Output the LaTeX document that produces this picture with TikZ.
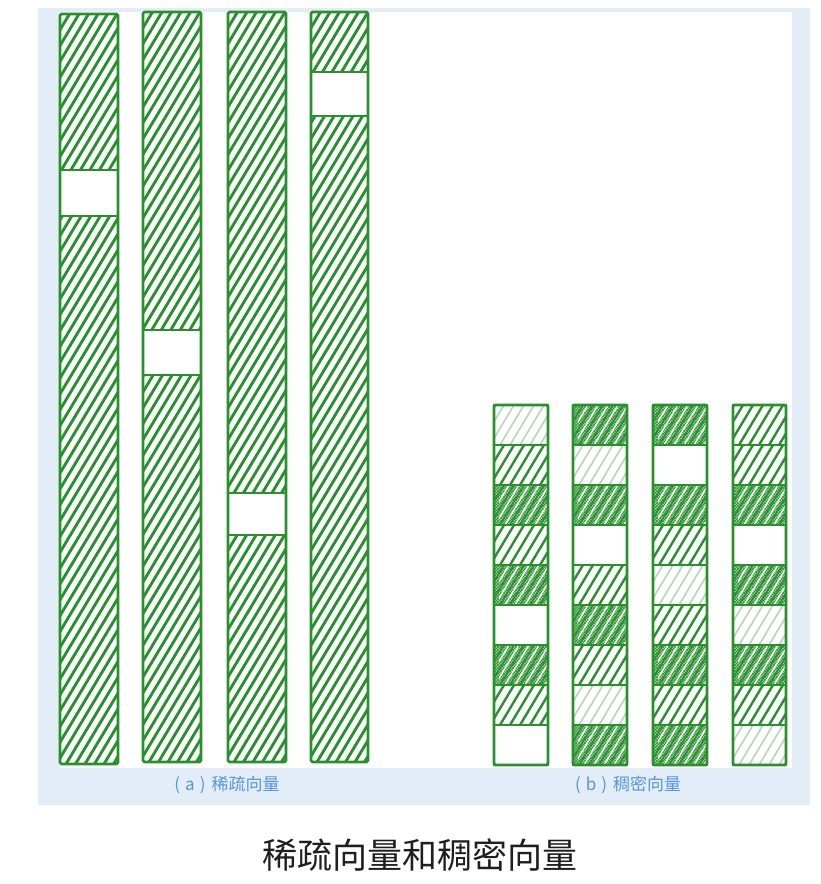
\documentclass[tikz,border=0pt]{standalone}
\usepackage{fontspec}
\newfontfamily\cjk{Noto Sans CJK SC}
\usetikzlibrary{patterns}
\definecolor{hgreen}{RGB}{40,145,45}
\definecolor{panelblue}{RGB}{227,237,248}
\definecolor{capblue}{RGB}{86,150,220}
\definecolor{titlegray}{RGB}{30,30,35}

\tikzset{
  hatchline/.style={hgreen, line width=2.9pt},
  bhatchline/.style={hgreen, line width=2.4pt},
  lighthatch/.style={hgreen!35, line width=1.6pt},
  whiteline/.style={white, line width=1.4pt},
  darkline/.style={hgreen, line width=1.6pt},
  outline/.style={draw=hgreen, line width=2.6pt, rounded corners=1.5pt},
  capstyle/.style={font=\cjk\fontsize{17}{17}\selectfont, text=capblue},
  titlestyle/.style={font=\cjk\fontsize{35}{35}\selectfont, text=titlegray}
}

% x1 y1 x2 y2 spacing style
\newcommand{\hatchbox}[6]{%
  \begin{scope}
    \clip (#1,#2) rectangle (#3,#4);
    \pgfmathsetmacro{\hh}{(#4-#2)*0.6}
    \pgfmathsetmacro{\hv}{(#4-#2)}
    \pgfmathsetmacro{\tstart}{#1-\hh}
    \pgfmathsetmacro{\tnext}{\tstart+#5}
    \foreach \t in {\tstart,\tnext,...,#3} \draw[#6] (\t,#4) -- ++(\hh,-\hv);
  \end{scope}}

\newcommand{\cellW}[4]{}
\newcommand{\cellL}[4]{\hatchbox{#1}{#2}{#3}{#4}{10}{lighthatch}}
\newcommand{\cellH}[4]{\hatchbox{#1}{#2}{#3}{#4}{10}{bhatchline}}
\newcommand{\cellD}[4]{%
  \fill[hgreen!40] (#1,#2) rectangle (#3,#4);
  \fill[pattern=crosshatch, pattern color=hgreen] (#1,#2) rectangle (#3,#4);
  \hatchbox{#1}{#2}{#3}{#4}{10}{darkline}
  \pgfmathsetmacro{\xs}{#1+5}
  \hatchbox{\xs}{#2}{#3}{#4}{10}{whiteline}}

% sparse bar: x1 y1 x2 y2 gaptop gapbottom
\newcommand{\sparsebar}[6]{%
  \hatchbox{#1}{#2}{#3}{#4}{9.5}{hatchline}
  \fill[white] (#1,#5) rectangle (#3,#6);
  \draw[hgreen, line width=2.4pt] (#1,#5) -- (#3,#5) (#1,#6) -- (#3,#6);
  \draw[outline] (#1,#2) rectangle (#3,#4);}

% dense bar: x1 x2 list-of-types
\newcommand{\densebar}[3]{%
  \foreach \typ [count=\k from 0] in {#3} {
    \pgfmathsetmacro{\ya}{405+40*\k}
    \pgfmathsetmacro{\yb}{\ya+40}
    \csname cell\typ\endcsname{#1}{\ya}{#2}{\yb}
    \draw[hgreen, line width=2.4pt] (#1,\ya) rectangle (#2,\yb);
  }
  \draw[outline] (#1,405) rectangle (#2,765);}

\begin{document}
\begin{tikzpicture}[x=1pt, y=-1pt]
  \useasboundingbox (0,0) rectangle (820,884);
  \fill[white] (0,0) rectangle (820,884);
  \fill[panelblue] (38,8) rectangle (810,805);
  \fill[white] (60,12) rectangle (792,768);

  % (a) sparse vectors
  \sparsebar{60}{14}{118}{764}{170}{216}
  \sparsebar{143}{12}{201}{762}{330}{375}
  \sparsebar{228}{12}{286}{762}{493}{535}
  \sparsebar{311}{12}{368}{762}{72}{116}

  % (b) dense vectors
  \densebar{494}{548}{L,H,D,H,D,W,D,H,W}
  \densebar{573}{627}{D,L,D,W,H,D,H,L,D}
  \densebar{653}{707}{D,W,D,H,L,H,D,H,D}
  \densebar{733}{786}{H,H,D,W,D,L,D,H,L}

  \node[capstyle] (capa) at (227,785) {(\hspace{5pt}a\hspace{5pt})\hspace{6pt}稀疏向量};
  \node[capstyle] (capb) at (628,785) {(\hspace{5pt}b\hspace{5pt})\hspace{6pt}稠密向量};
  \node[titlestyle] (title) at (420,855) {稀疏向量和稠密向量};
\end{tikzpicture}
\end{document}
